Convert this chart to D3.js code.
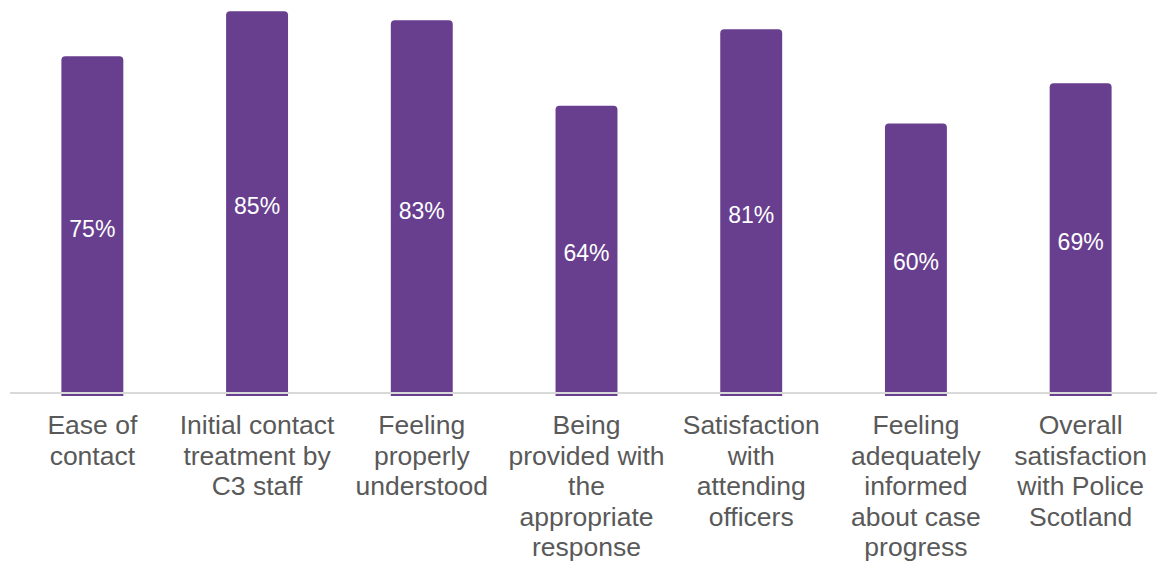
<!DOCTYPE html>
<html>
<head>
<meta charset="utf-8">
<script src="https://cdn.jsdelivr.net/npm/d3@7"></script>
<style>
    html, body { margin: 0; padding: 0; background: #fff; }
    svg { display: block; font-family: "Liberation Sans", Arial, sans-serif; }
    .bar { fill: #683f8f; }
    .value-label { fill: #fff; font-size: 23px; }
    .cat-label { fill: #595959; font-size: 26.5px; }
    .axis-line { stroke: #d9d9d9; stroke-width: 2; }
</style>
</head>
<body>
<svg id="chart" width="1157" height="561"></svg>
<script>
(function () {
    "use strict";

    // Category labels, already split into lines as in the original
    const categories = [
        ["Ease of", "contact"],
        ["Initial contact", "treatment by", "C3 staff"],
        ["Feeling", "properly", "understood"],
        ["Being", "provided with", "the", "appropriate", "response"],
        ["Satisfaction", "with", "attending", "officers"],
        ["Feeling", "adequately", "informed", "about case", "progress"],
        ["Overall", "satisfaction", "with Police", "Scotland"]
    ];

    // Percent satisfied
    const values = [75, 85, 83, 64, 81, 60, 69];

    const W = 1157;
    const H = 561;
    const margin = { top: 0, right: -6, bottom: 168, left: 10 };
    const baseline = H - margin.bottom; // ~393

    const svg = d3.select("#chart");

    const x = d3.scaleBand()
        .domain(d3.range(values.length))
        .range([margin.left, W - margin.right])
        .paddingInner(0.624)
        .paddingOuter(0.312);

    // 100% sits a bit above the top edge
    const y = d3.scaleLinear()
        .domain([0, 100])
        .range([baseline, baseline - 449]);

    // Bars with rounded tops; extend a few px below the axis line
    const r = 4;
    svg.selectAll(".bar")
        .data(values)
        .enter()
        .append("path")
        .attr("class", "bar")
        .attr("d", (d, i) => {
            const x0 = x(i), x1 = x(i) + x.bandwidth();
            const top = y(d), bot = baseline + 3;
            return `M${x0},${bot} L${x0},${top + r} Q${x0},${top} ${x0 + r},${top}` +
                   ` L${x1 - r},${top} Q${x1},${top} ${x1},${top + r} L${x1},${bot} Z`;
        });

    // Axis line
    svg.append("line")
        .attr("class", "axis-line")
        .attr("x1", margin.left).attr("x2", W)
        .attr("y1", baseline).attr("y2", baseline);

    // Value labels in the middle of each bar
    svg.selectAll(".value-label")
        .data(values)
        .enter()
        .append("text")
        .attr("class", "value-label")
        .attr("x", (d, i) => x(i) + x.bandwidth() / 2)
        .attr("y", d => (y(d) + baseline) / 2 + 12)
        .attr("text-anchor", "middle")
        .text(d => d + "%");

    // Category labels under the axis
    const lineH = 30.5;
    const labels = svg.selectAll(".cat-label")
        .data(categories)
        .enter()
        .append("text")
        .attr("class", "cat-label")
        .attr("text-anchor", "middle")
        .attr("x", (d, i) => x(i) + x.bandwidth() / 2)
        .attr("y", baseline + 41);

    labels.selectAll("tspan")
        .data(d => d)
        .enter()
        .append("tspan")
        .attr("x", function () { return d3.select(this.parentNode).attr("x"); })
        .attr("dy", (d, j) => j === 0 ? 0 : lineH)
        .text(d => d);
})();
</script>
</body>
</html>
